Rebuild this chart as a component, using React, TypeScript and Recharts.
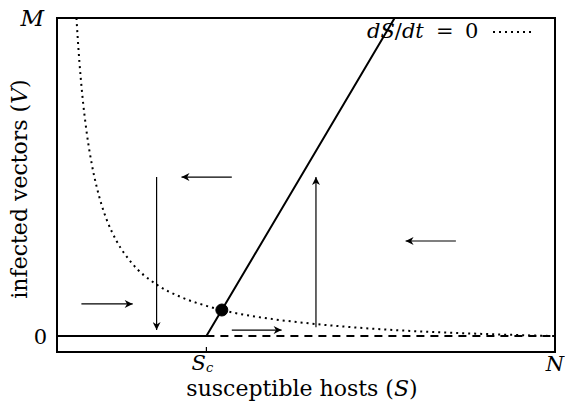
import React from "react";
import {
  ComposedChart,
  Line,
  XAxis,
  YAxis,
  ReferenceArea,
  ReferenceLine,
  ReferenceDot,
  Legend,
} from "recharts";

// dS/dt = 0 nullcline
const nullS = [0.039, 0.045, 0.05, 0.06, 0.07, 0.08, 0.09, 0.1, 0.12, 0.15, 0.2, 0.25, 0.3, 0.35, 0.4, 0.5, 0.6, 0.7, 0.8, 0.9, 1.0];
const nullV = [1.0, 0.862, 0.771, 0.636, 0.539, 0.467, 0.41, 0.365, 0.298, 0.23, 0.162, 0.122, 0.095, 0.075, 0.061, 0.041, 0.027, 0.017, 0.01, 0.0045, 0.0];

// dV/dt = 0 (solid branch and dashed unstable branch)
const solidS = [0, 0.3, 0.678];
const solidV = [0, 0, 1];
const dashS = [0.3, 1];
const dashV = [0, 0];

// equilibrium
const eqS = 0.331;
const eqV = 0.082;

// direction arrows
const arrowFromS = [0.049, 0.2, 0.351, 0.351, 0.52, 0.801];
const arrowFromV = [0.101, 0.5, 0.5, 0.019, 0.028, 0.299];
const arrowToS = [0.152, 0.2, 0.25, 0.451, 0.52, 0.7];
const arrowToV = [0.101, 0.019, 0.5, 0.019, 0.5, 0.299];

const xTicks = [0.3, 1];
const xTickLabels = ["S", "N"];
const yTicks = [0, 1];
const yTickLabels = ["0", "M"];

const FONT = "'DejaVu Serif', serif";
const txt = { fontFamily: FONT, fontSize: 21, fill: "#000" };

const nullData = nullS.map((s, i) => ({ s, v: nullV[i] }));
const solidData = solidS.map((s, i) => ({ s, v: solidV[i] }));
const dashData = dashS.map((s, i) => ({ s, v: dashV[i] }));

function XTick(props: any) {
  const { x, y, payload } = props;
  const i = xTicks.indexOf(payload.value);
  if (i === 0) {
    return (
      <g>
        <line x1={x} y1={y} x2={x} y2={y - 5} stroke="#000" strokeWidth={1.2} />
        <text x={x - 4} y={y + 18} textAnchor="middle" style={{ ...txt, fontStyle: "italic" }}>
          {xTickLabels[i]}
          <tspan style={{ fontSize: 13 }} dy={2}>c</tspan>
        </text>
      </g>
    );
  }
  return (
    <text x={x} y={y + 19} textAnchor="middle" style={{ ...txt, fontStyle: "italic" }}>
      {xTickLabels[i]}
    </text>
  );
}

function YTick(props: any) {
  const { x, y, payload } = props;
  const i = yTicks.indexOf(payload.value);
  return (
    <text
      x={i === 1 ? x - 3 : x}
      y={y + 8}
      textAnchor="end"
      style={{ ...txt, fontStyle: i === 1 ? "italic" : "normal", fontSize: i === 1 ? 23 : 21 }}
    >
      {yTickLabels[i]}
    </text>
  );
}

function LegendBox() {
  return (
    <svg width={190} height={32} style={{ display: "block" }}>
      <text y={22} style={txt}>
        <tspan x={13} style={{ fontStyle: "italic" }}>dS</tspan>
        <tspan>/</tspan>
        <tspan style={{ fontStyle: "italic" }}>dt</tspan>
        <tspan x={82}>=</tspan>
        <tspan x={111}>0</tspan>
      </text>
      <line x1={139} y1={16} x2={181} y2={16} stroke="#000" strokeWidth={2} strokeDasharray="2 4" />
    </svg>
  );
}

export default function App() {
  return (
    <div style={{ position: "absolute", left: 0, top: 0, background: "#fff" }}>
      <ComposedChart width={565} height={404} margin={{ top: 18, right: 10, bottom: 0, left: 0 }}>
        <defs>
          <marker
            id="arrowHead"
            viewBox="0 0 10 10"
            refX={10}
            refY={5}
            markerWidth={12}
            markerHeight={8}
            markerUnits="userSpaceOnUse"
            orient="auto"
          >
            <path d="M0,0 L10,5 L0,10 L3,5 z" fill="#000" />
          </marker>
        </defs>
        <XAxis
          dataKey="s"
          type="number"
          domain={[0, 1]}
          ticks={xTicks}
          height={52}
          axisLine={false}
          tickLine={false}
          tickSize={0}
          tickMargin={0}
          tick={<XTick />}
          allowDataOverflow
          label={({ viewBox }: any) => (
            <text
              x={viewBox.x + viewBox.width / 2 - 4}
              y={viewBox.y + 44}
              textAnchor="middle"
              style={{ ...txt, fontSize: 22 }}
            >
              susceptible hosts (<tspan style={{ fontStyle: "italic" }}>S</tspan>)
            </text>
          )}
        />
        <YAxis
          type="number"
          domain={[-0.05, 1]}
          ticks={yTicks}
          width={57}
          axisLine={false}
          tickLine={false}
          tickSize={0}
          tickMargin={10}
          tick={<YTick />}
          allowDataOverflow
          label={({ viewBox }: any) => {
            const cx = 27;
            const cy = viewBox.y + viewBox.height / 2 + 4;
            return (
              <text
                x={cx}
                y={cy}
                transform={`rotate(-90, ${cx}, ${cy})`}
                textAnchor="middle"
                style={{ ...txt, fontSize: 22 }}
              >
                infected vectors (<tspan style={{ fontStyle: "italic" }}>V</tspan>)
              </text>
            );
          }}
        />
        <ReferenceArea x1={0} x2={1} y1={-0.05} y2={1} fill="none" stroke="#000" strokeWidth={2} />
        <Line
          data={nullData}
          dataKey="v"
          type="monotone"
          stroke="#000"
          strokeWidth={2}
          strokeDasharray="2 4"
          dot={false}
          isAnimationActive={false}
        />
        <Line
          data={dashData}
          dataKey="v"
          type="linear"
          stroke="#000"
          strokeWidth={2}
          strokeDasharray="8 6"
          dot={false}
          isAnimationActive={false}
        />
        <Line
          data={solidData}
          dataKey="v"
          type="linear"
          stroke="#000"
          strokeWidth={2}
          dot={false}
          isAnimationActive={false}
        />
        {arrowFromS.map((s, i) => (
          <ReferenceLine
            key={i}
            segment={[
              { x: s, y: arrowFromV[i] },
              { x: arrowToS[i], y: arrowToV[i] },
            ]}
            stroke="#000"
            strokeWidth={1.2}
            markerEnd="url(#arrowHead)"
          />
        ))}
        <ReferenceDot x={eqS} y={eqV} r={6} fill="#000" stroke="#000" />
        <Legend
          layout="horizontal"
          verticalAlign="middle"
          align="center"
          wrapperStyle={{ top: 16, left: 354, width: 190 }}
          content={() => <LegendBox />}
        />
      </ComposedChart>
    </div>
  );
}
